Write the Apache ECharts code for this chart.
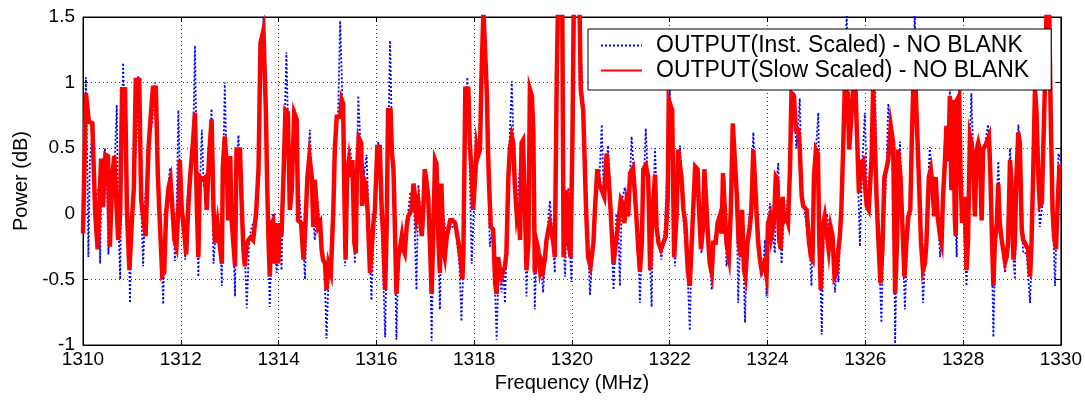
<!DOCTYPE html>
<html><head><meta charset="utf-8">
<script src="https://cdn.jsdelivr.net/npm/echarts@6/dist/echarts.min.js"></script>
<style>html,body{margin:0;padding:0;background:#fff}#c{width:1085px;height:402px}</style>
</head><body><div id="c"></div><script>
// [frequency MHz, power dB]
const slowScaled = [
[1310.00,-0.15],[1310.06,0.92],[1310.12,0.70],[1310.19,0.69],[1310.25,0.00],[1310.30,-0.27],[1310.37,0.42],[1310.41,0.05],[1310.46,0.45],[1310.51,0.44],
[1310.55,-0.25],[1310.60,0.30],[1310.64,0.44],[1310.68,0.10],[1310.72,-0.20],[1310.76,0.00],[1310.80,0.95],[1310.86,0.95],[1310.90,0.00],[1310.95,-0.43],
[1311.00,-0.05],[1311.04,0.20],[1311.08,1.02],[1311.15,1.02],[1311.19,0.10],[1311.24,-0.05],[1311.28,-0.17],[1311.34,0.50],[1311.38,0.72],[1311.43,0.96],
[1311.49,0.96],[1311.53,0.30],[1311.57,-0.05],[1311.62,-0.47],[1311.66,-0.45],[1311.70,0.00],[1311.75,0.20],[1311.79,0.26],[1311.83,0.26],[1311.87,-0.20],
[1311.91,-0.25],[1311.96,0.10],[1311.98,0.41],[1312.02,0.03],[1312.06,-0.10],[1312.11,-0.31],[1312.15,0.03],[1312.19,0.28],[1312.25,0.55],[1312.29,0.77],
[1312.33,0.03],[1312.36,-0.33],[1312.39,0.28],[1312.43,0.26],[1312.46,0.26],[1312.50,0.28],[1312.53,0.03],[1312.58,0.45],[1312.63,0.72],[1312.67,0.03],
[1312.70,-0.22],[1312.75,-0.07],[1312.79,-0.07],[1312.84,-0.38],[1312.86,0.36],[1312.90,0.59],[1312.94,0.36],[1312.97,-0.05],[1313.01,0.44],[1313.04,-0.05],
[1313.08,-0.25],[1313.11,-0.40],[1313.14,0.49],[1313.21,0.49],[1313.25,0.03],[1313.28,-0.27],[1313.31,-0.40],[1313.34,-0.25],[1313.38,-0.20],[1313.43,-0.18],
[1313.48,-0.20],[1313.54,0.00],[1313.59,0.34],[1313.63,1.30],[1313.69,1.40],[1313.74,0.79],[1313.77,0.16],[1313.80,-0.27],[1313.82,-0.48],[1313.86,-0.07],
[1313.89,-0.05],[1313.92,-0.38],[1313.96,-0.07],[1313.99,-0.38],[1314.03,-0.07],[1314.06,-0.17],[1314.10,0.28],[1314.14,0.79],[1314.19,0.77],[1314.23,0.03],
[1314.27,0.18],[1314.32,0.77],[1314.37,0.72],[1314.40,-0.05],[1314.46,-0.07],[1314.51,-0.35],[1314.55,-0.07],[1314.59,0.28],[1314.63,0.44],[1314.68,0.28],
[1314.71,-0.10],[1314.74,0.26],[1314.78,0.26],[1314.81,-0.10],[1314.85,-0.07],[1314.88,-0.27],[1314.91,-0.35],[1314.95,-0.38],[1314.98,-0.58],[1315.02,-0.38],
[1315.07,-0.45],[1315.12,0.03],[1315.15,0.49],[1315.19,0.74],[1315.26,0.74],[1315.29,0.87],[1315.32,0.84],[1315.34,0.28],[1315.37,-0.35],[1315.40,0.28],
[1315.44,0.41],[1315.48,0.28],[1315.51,0.41],[1315.55,-0.22],[1315.58,-0.30],[1315.60,0.28],[1315.64,0.58],[1315.69,0.54],[1315.71,0.06],[1315.75,0.26],
[1315.78,0.23],[1315.82,0.03],[1315.87,-0.45],[1315.94,-0.07],[1315.97,0.03],[1316.02,0.51],[1316.07,0.51],[1316.11,0.03],[1316.14,-0.17],[1316.18,-0.58],
[1316.21,-0.12],[1316.24,0.79],[1316.29,0.79],[1316.32,0.46],[1316.35,0.34],[1316.38,-0.12],[1316.41,-0.61],[1316.45,-0.33],[1316.48,-0.27],[1316.52,-0.17],
[1316.55,-0.27],[1316.58,-0.30],[1316.62,-0.10],[1316.65,-0.02],[1316.69,-0.02],[1316.72,0.03],[1316.76,0.23],[1316.79,0.13],[1316.82,-0.02],[1316.86,0.08],
[1316.89,-0.02],[1316.93,-0.17],[1316.96,0.03],[1316.99,0.34],[1317.03,0.23],[1317.06,0.13],[1317.10,-0.27],[1317.13,-0.61],[1317.16,-0.22],[1317.20,0.41],
[1317.23,0.38],[1317.27,-0.22],[1317.30,-0.45],[1317.33,0.23],[1317.37,-0.27],[1317.40,-0.33],[1317.44,-0.17],[1317.47,-0.12],[1317.51,-0.05],[1317.56,-0.05],
[1317.61,-0.07],[1317.64,-0.07],[1317.68,-0.22],[1317.72,-0.33],[1317.76,-0.50],[1317.78,-0.30],[1317.82,0.97],[1317.86,0.80],[1317.88,0.97],[1317.91,0.54],
[1317.95,0.31],[1317.98,0.03],[1318.02,0.28],[1318.05,0.51],[1318.08,0.44],[1318.12,0.49],[1318.15,1.05],[1318.19,1.55],[1318.22,1.55],[1318.26,0.92],
[1318.28,0.54],[1318.30,0.28],[1318.34,-0.10],[1318.39,-0.12],[1318.43,-0.53],[1318.46,-0.61],[1318.49,-0.33],[1318.53,-0.43],[1318.56,-0.48],[1318.60,-0.43],
[1318.63,-0.40],[1318.66,-0.30],[1318.70,0.28],[1318.73,0.49],[1318.77,0.59],[1318.80,0.54],[1318.83,0.23],[1318.87,0.00],[1318.90,0.08],[1318.94,-0.20],
[1318.97,0.54],[1319.00,0.56],[1319.04,0.03],[1319.07,-0.43],[1319.11,-0.22],[1319.14,0.95],[1319.18,0.90],[1319.21,0.64],[1319.24,-0.45],[1319.28,-0.22],
[1319.31,-0.27],[1319.35,-0.43],[1319.38,-0.38],[1319.41,-0.43],[1319.45,-0.33],[1319.48,-0.20],[1319.52,-0.12],[1319.55,-0.07],[1319.58,-0.07],[1319.62,-0.22],
[1319.65,-0.33],[1319.69,1.05],[1319.72,1.70],[1319.80,1.70],[1319.83,-0.33],[1319.89,0.18],[1319.93,-0.22],[1319.97,-0.33],[1320.01,0.54],[1320.04,1.70],
[1320.15,1.70],[1320.18,0.95],[1320.23,0.79],[1320.29,0.03],[1320.33,-0.33],[1320.38,-0.40],[1320.44,-0.22],[1320.47,0.03],[1320.52,0.34],[1320.56,0.23],
[1320.61,0.18],[1320.66,0.13],[1320.71,0.46],[1320.75,0.28],[1320.79,0.03],[1320.85,-0.38],[1320.90,-0.22],[1320.95,-0.07],[1321.00,0.11],[1321.04,0.08],
[1321.07,-0.07],[1321.11,0.08],[1321.15,-0.02],[1321.19,0.31],[1321.25,0.35],[1321.31,0.03],[1321.35,-0.22],[1321.39,-0.44],[1321.43,-0.22],[1321.46,0.34],
[1321.51,0.37],[1321.56,0.28],[1321.60,-0.43],[1321.65,0.03],[1321.70,0.30],[1321.73,-0.10],[1321.77,-0.22],[1321.82,-0.27],[1321.87,-0.22],[1321.92,-0.17],
[1321.96,0.13],[1321.98,0.87],[1322.02,0.88],[1322.05,0.79],[1322.09,-0.33],[1322.14,-0.02],[1322.17,0.49],[1322.21,0.49],[1322.24,0.28],[1322.28,0.03],
[1322.32,-0.07],[1322.37,-0.43],[1322.41,-0.55],[1322.45,-0.22],[1322.48,0.03],[1322.52,0.36],[1322.57,0.34],[1322.60,0.03],[1322.64,-0.27],[1322.68,-0.10],
[1322.71,0.34],[1322.75,0.34],[1322.79,-0.22],[1322.82,-0.38],[1322.86,-0.45],[1322.89,-0.22],[1322.94,-0.22],[1322.98,-0.07],[1323.02,-0.02],[1323.06,-0.15],
[1323.09,0.31],[1323.13,0.31],[1323.16,-0.22],[1323.21,-0.33],[1323.25,0.03],[1323.29,0.69],[1323.33,0.69],[1323.37,0.16],[1323.41,-0.22],[1323.46,-0.33],
[1323.48,0.03],[1323.52,-0.43],[1323.55,-0.48],[1323.59,-0.22],[1323.64,-0.10],[1323.67,0.03],[1323.71,0.49],[1323.74,0.28],[1323.78,-0.02],[1323.81,-0.22],
[1323.84,-0.33],[1323.88,-0.43],[1323.93,-0.38],[1323.98,-0.48],[1324.01,-0.07],[1324.05,-0.02],[1324.08,-0.17],[1324.13,-0.07],[1324.17,0.28],[1324.20,0.26],
[1324.24,-0.20],[1324.27,-0.27],[1324.31,0.13],[1324.34,-0.05],[1324.38,-0.02],[1324.42,-0.07],[1324.46,0.34],[1324.49,0.92],[1324.54,0.90],[1324.58,0.64],
[1324.63,0.64],[1324.66,0.49],[1324.70,0.13],[1324.73,0.06],[1324.80,0.03],[1324.85,-0.22],[1324.89,-0.33],[1324.92,-0.35],[1324.95,0.28],[1324.99,0.49],
[1325.03,0.46],[1325.06,-0.22],[1325.09,-0.58],[1325.13,-0.10],[1325.17,-0.02],[1325.21,-0.02],[1325.25,-0.27],[1325.29,-0.10],[1325.33,-0.17],[1325.37,-0.48],
[1325.41,-0.45],[1325.45,-0.27],[1325.48,-0.17],[1325.51,0.03],[1325.55,0.54],[1325.58,0.95],[1325.64,0.92],[1325.67,0.49],[1325.71,0.71],[1325.75,0.95],
[1325.80,0.95],[1325.84,0.49],[1325.87,0.16],[1325.91,0.39],[1325.96,0.41],[1325.99,0.23],[1326.03,0.06],[1326.07,0.03],[1326.13,0.44],[1326.16,0.95],
[1326.20,0.95],[1326.23,0.13],[1326.27,-0.22],[1326.31,-0.53],[1326.35,-0.27],[1326.39,0.28],[1326.43,0.34],[1326.47,0.41],[1326.52,0.67],[1326.57,0.54],
[1326.61,-0.61],[1326.65,-0.22],[1326.67,0.49],[1326.72,0.28],[1326.76,-0.10],[1326.80,-0.48],[1326.84,-0.22],[1326.88,-0.02],[1326.92,0.03],[1326.95,0.54],
[1326.98,0.95],[1327.03,0.95],[1327.07,0.54],[1327.10,0.23],[1327.14,-0.22],[1327.18,-0.43],[1327.22,-0.38],[1327.25,-0.22],[1327.30,0.28],[1327.34,0.34],
[1327.37,0.23],[1327.41,-0.02],[1327.44,0.28],[1327.48,-0.02],[1327.53,-0.17],[1327.56,-0.22],[1327.59,0.13],[1327.63,0.41],[1327.66,0.67],[1327.70,0.41],
[1327.73,0.90],[1327.76,0.18],[1327.80,0.87],[1327.83,-0.02],[1327.85,-0.17],[1327.88,0.87],[1327.92,0.90],[1327.95,0.28],[1327.98,-0.07],[1328.02,-0.07],
[1328.04,0.13],[1328.07,-0.43],[1328.10,-0.22],[1328.14,0.59],[1328.17,0.54],[1328.21,0.41],[1328.24,-0.02],[1328.28,0.49],[1328.31,0.54],[1328.34,0.49],
[1328.38,-0.05],[1328.41,0.49],[1328.48,0.54],[1328.53,0.59],[1328.56,0.28],[1328.59,-0.17],[1328.62,-0.55],[1328.65,-0.22],[1328.69,-0.07],[1328.72,0.23],
[1328.75,-0.07],[1328.79,-0.20],[1328.82,-0.27],[1328.86,-0.37],[1328.89,-0.33],[1328.92,-0.22],[1328.96,0.41],[1328.99,0.23],[1329.03,-0.35],[1329.06,-0.22],
[1329.09,0.28],[1329.13,0.62],[1329.16,0.54],[1329.20,-0.12],[1329.23,-0.20],[1329.26,-0.22],[1329.30,-0.25],[1329.33,-0.27],[1329.37,-0.48],[1329.40,-0.22],
[1329.44,0.41],[1329.47,0.95],[1329.50,0.79],[1329.54,0.28],[1329.57,0.06],[1329.61,0.08],[1329.64,0.08],[1329.67,0.92],[1329.71,1.60],[1329.76,1.60],
[1329.79,0.79],[1329.83,0.03],[1329.86,-0.17],[1329.90,-0.27],[1329.93,0.03],[1329.97,0.36],[1330.00,0.36]
];
const instScaled = [
[1310.00,0.00],[1310.06,1.04],[1310.09,0.30],[1310.11,-0.33],[1310.14,0.40],[1310.21,0.70],[1310.25,0.10],[1310.32,0.20],[1310.35,-0.38],[1310.38,0.30],
[1310.45,0.50],[1310.49,0.20],[1310.52,-0.31],[1310.56,0.10],[1310.65,0.40],[1310.69,0.83],[1310.72,0.00],[1310.76,-0.50],[1310.79,0.40],[1310.82,1.15],
[1310.86,0.60],[1310.93,0.00],[1310.96,-0.68],[1310.99,-0.10],[1311.10,0.60],[1311.13,1.05],[1311.17,0.30],[1311.23,-0.40],[1311.27,0.10],[1311.36,0.60],
[1311.42,0.70],[1311.47,1.00],[1311.51,0.40],[1311.60,-0.20],[1311.64,-0.69],[1311.68,0.00],[1311.78,0.35],[1311.84,0.10],[1311.88,-0.36],[1311.92,0.10],
[1311.95,0.79],[1311.99,0.20],[1312.05,0.00],[1312.09,-0.35],[1312.13,0.10],[1312.25,0.50],[1312.29,1.28],[1312.33,0.20],[1312.36,-0.48],[1312.39,0.20],
[1312.43,0.64],[1312.47,0.20],[1312.58,0.40],[1312.63,0.80],[1312.65,0.10],[1312.67,-0.38],[1312.72,-0.10],[1312.80,-0.10],[1312.84,-0.55],[1312.87,0.40],
[1312.90,1.00],[1312.94,0.30],[1313.01,0.30],[1313.06,0.00],[1313.11,-0.63],[1313.14,0.40],[1313.18,0.60],[1313.24,0.10],[1313.31,-0.30],[1313.35,-0.72],
[1313.40,-0.20],[1313.45,-0.10],[1313.55,0.00],[1313.62,1.00],[1313.69,1.49],[1313.74,0.70],[1313.79,-0.20],[1313.82,-0.71],[1313.86,-0.10],[1313.89,0.00],
[1313.96,-0.45],[1314.02,-0.10],[1314.06,-0.43],[1314.10,0.30],[1314.16,1.23],[1314.21,0.40],[1314.27,0.10],[1314.30,0.50],[1314.33,0.80],[1314.38,0.40],
[1314.45,0.00],[1314.50,-0.20],[1314.54,-0.50],[1314.58,0.10],[1314.64,0.64],[1314.68,0.20],[1314.74,-0.20],[1314.80,0.10],[1314.88,-0.30],[1314.94,-0.40],
[1314.98,-0.95],[1315.03,-0.40],[1315.10,-0.30],[1315.15,0.50],[1315.22,0.80],[1315.26,1.47],[1315.31,0.80],[1315.34,0.20],[1315.36,-0.40],[1315.40,0.30],
[1315.46,0.50],[1315.52,0.30],[1315.56,-0.38],[1315.60,0.30],[1315.63,0.90],[1315.68,0.50],[1315.75,0.30],[1315.80,0.45],[1315.84,0.00],[1315.90,-0.66],
[1315.95,-0.10],[1316.04,0.55],[1316.10,0.00],[1316.18,-0.94],[1316.22,0.00],[1316.28,1.32],[1316.33,0.40],[1316.37,-0.10],[1316.41,-0.96],[1316.45,-0.30],
[1316.55,-0.20],[1316.62,-0.10],[1316.69,0.15],[1316.76,0.20],[1316.82,-0.58],[1316.86,0.22],[1316.92,-0.10],[1316.99,0.30],[1317.06,0.10],[1317.10,-0.30],
[1317.13,-0.97],[1317.17,-0.20],[1317.20,0.45],[1317.25,0.00],[1317.30,-0.73],[1317.34,0.20],[1317.37,0.00],[1317.44,-0.20],[1317.51,-0.10],[1317.62,-0.10],
[1317.70,-0.40],[1317.74,-0.82],[1317.78,-0.40],[1317.83,0.80],[1317.86,1.04],[1317.90,0.50],[1317.95,-0.38],[1318.00,0.10],[1318.08,0.45],[1318.12,0.60],
[1318.15,1.10],[1318.19,1.60],[1318.24,1.00],[1318.28,0.40],[1318.32,-0.25],[1318.38,-0.10],[1318.43,-0.60],[1318.46,-0.96],[1318.50,-0.40],[1318.56,-0.60],
[1318.60,-0.45],[1318.63,-0.68],[1318.67,-0.20],[1318.72,0.50],[1318.77,1.01],[1318.81,0.50],[1318.87,0.00],[1318.90,0.00],[1318.96,0.50],[1319.00,0.55],
[1319.04,0.00],[1319.07,-0.63],[1319.10,-0.20],[1319.14,0.95],[1319.18,0.80],[1319.21,0.50],[1319.24,-0.73],[1319.28,-0.25],[1319.32,-0.30],[1319.37,-0.40],
[1319.41,-0.60],[1319.46,-0.30],[1319.55,0.10],[1319.61,-0.20],[1319.65,-0.45],[1319.68,0.80],[1319.72,1.60],[1319.82,1.60],[1319.84,-0.30],[1319.86,-0.48],
[1319.90,0.10],[1319.93,0.20],[1319.96,-0.30],[1319.99,-0.52],[1320.02,0.50],[1320.06,1.60],[1320.16,1.60],[1320.23,0.70],[1320.30,0.00],[1320.37,-0.62],
[1320.43,-0.20],[1320.50,0.20],[1320.56,0.25],[1320.61,0.68],[1320.65,0.15],[1320.68,0.10],[1320.71,0.40],[1320.74,0.52],[1320.79,0.00],[1320.85,-0.58],
[1320.89,-0.20],[1320.91,0.00],[1320.95,-0.10],[1320.98,-0.55],[1321.02,0.10],[1321.08,0.20],[1321.16,0.00],[1321.22,0.59],[1321.27,0.30],[1321.32,0.00],
[1321.36,-0.25],[1321.39,-0.68],[1321.44,-0.10],[1321.51,0.65],[1321.56,0.20],[1321.60,-0.40],[1321.63,-0.71],[1321.66,0.00],[1321.70,0.50],[1321.75,-0.10],
[1321.83,-0.35],[1321.90,-0.10],[1321.97,0.50],[1322.00,0.95],[1322.04,0.70],[1322.08,-0.20],[1322.11,-0.40],[1322.15,0.10],[1322.21,0.52],[1322.27,0.00],
[1322.36,-0.40],[1322.41,-0.89],[1322.45,-0.20],[1322.51,0.30],[1322.55,0.30],[1322.60,0.00],[1322.65,-0.30],[1322.69,0.00],[1322.72,0.20],[1322.78,-0.20],
[1322.86,-0.58],[1322.92,-0.20],[1323.00,-0.05],[1323.06,0.00],[1323.12,0.25],[1323.16,-0.40],[1323.22,-0.25],[1323.28,0.60],[1323.33,0.45],[1323.37,0.10],
[1323.40,-0.68],[1323.44,-0.20],[1323.48,0.00],[1323.51,-0.40],[1323.54,-0.83],[1323.58,-0.20],[1323.66,0.10],[1323.71,0.62],[1323.76,0.10],[1323.84,-0.30],
[1323.88,-0.48],[1323.92,-0.35],[1323.95,-0.20],[1323.98,-0.63],[1324.02,-0.05],[1324.05,0.08],[1324.10,-0.10],[1324.15,-0.30],[1324.18,0.20],[1324.22,0.39],
[1324.26,-0.20],[1324.29,-0.38],[1324.33,0.00],[1324.39,0.00],[1324.45,0.30],[1324.49,0.85],[1324.53,0.95],[1324.56,0.70],[1324.59,0.50],[1324.63,0.70],
[1324.66,0.88],[1324.70,0.20],[1324.80,-0.10],[1324.86,-0.25],[1324.90,-0.55],[1324.94,0.10],[1325.00,0.55],[1325.04,0.77],[1325.07,-0.30],[1325.11,-0.92],
[1325.15,-0.10],[1325.21,0.00],[1325.28,-0.15],[1325.34,-0.30],[1325.38,-0.60],[1325.42,-0.40],[1325.45,-0.52],[1325.50,0.00],[1325.56,0.70],[1325.62,1.55],
[1325.66,0.60],[1325.72,0.70],[1325.75,1.05],[1325.80,0.90],[1325.85,0.30],[1325.89,-0.25],[1325.93,0.30],[1325.99,0.77],[1326.04,0.10],[1326.13,0.30],
[1326.17,0.90],[1326.20,1.00],[1326.24,0.10],[1326.29,-0.40],[1326.33,-0.83],[1326.37,-0.20],[1326.43,0.30],[1326.47,0.84],[1326.53,0.60],[1326.58,0.30],
[1326.61,-0.99],[1326.65,-0.20],[1326.71,0.55],[1326.76,-0.10],[1326.81,-0.73],[1326.86,-0.20],[1326.93,0.10],[1326.97,0.80],[1327.01,1.55],[1327.05,0.70],
[1327.11,0.10],[1327.15,-0.30],[1327.18,-0.68],[1327.23,-0.30],[1327.28,0.20],[1327.32,0.51],[1327.37,0.20],[1327.42,0.00],[1327.47,0.10],[1327.53,-0.33],
[1327.58,0.00],[1327.64,0.50],[1327.69,0.40],[1327.73,0.95],[1327.77,0.20],[1327.80,0.80],[1327.84,0.00],[1327.87,-0.33],[1327.89,0.60],[1327.92,0.95],
[1327.96,0.20],[1328.02,-0.10],[1328.07,-0.55],[1328.11,-0.10],[1328.14,0.60],[1328.17,0.92],[1328.21,0.40],[1328.25,0.00],[1328.28,0.20],[1328.32,0.55],
[1328.38,0.00],[1328.42,0.45],[1328.51,0.68],[1328.56,0.25],[1328.59,-0.30],[1328.62,-0.94],[1328.66,-0.20],[1328.72,0.40],[1328.76,-0.05],[1328.82,-0.30],
[1328.86,-0.45],[1328.91,-0.20],[1328.96,0.50],[1329.00,0.20],[1329.03,-0.35],[1329.06,-0.50],[1329.10,0.30],[1329.13,0.68],[1329.17,0.50],[1329.20,-0.10],
[1329.23,-0.30],[1329.30,-0.30],[1329.37,-0.68],[1329.41,-0.20],[1329.44,0.45],[1329.47,1.00],[1329.51,0.60],[1329.54,0.20],[1329.57,-0.10],[1329.63,0.10],
[1329.67,0.90],[1329.71,1.60],[1329.78,1.60],[1329.82,0.50],[1329.85,-0.20],[1329.88,-0.55],[1329.92,0.00],[1329.95,0.46],[1330.00,0.40]
];
const seriesNames = ['OUTPUT(Inst. Scaled) - NO BLANK', 'OUTPUT(Slow Scaled) - NO BLANK'];
const xRange = [1310, 1330, 2];
const yRange = [-1, 1.5, 0.5];
const xTitle = 'Frequency (MHz)';
const yTitle = 'Power (dB)';

const FONT = 'Liberation Sans, Arial, sans-serif';
const chart = echarts.init(document.getElementById('c'), null, {renderer: 'canvas'});
const gridLine = {show: true, lineStyle: {color: '#000', type: [1, 3], width: 1, opacity: 0.75}};
const tickIn = {show: true, inside: true, length: 5, lineStyle: {color: '#000'}};
const axisLn = {show: true, onZero: false, lineStyle: {color: '#000'}};
chart.setOption({
  animation: false,
  backgroundColor: '#fff',
  grid: {left: 83, right: 24, top: 17, bottom: 57, show: true, borderColor: '#000', borderWidth: 1, containLabel: false},
  legend: {
    orient: 'vertical', left: 588, top: 29,
    padding: [4, 22, 7, 12], itemGap: 0, itemWidth: 41, itemHeight: 14,
    backgroundColor: '#fff', borderColor: '#000', borderWidth: 1,
    itemStyle: {color: 'rgba(0,0,0,0)', borderWidth: 0, borderColor: 'rgba(0,0,0,0)'},
    textStyle: {fontFamily: FONT, fontSize: 23, color: '#000', padding: [0, 0, 0, 9], lineHeight: 25},
    data: seriesNames
  },
  xAxis: [{
    type: 'value', min: xRange[0], max: xRange[1], interval: xRange[2],
    name: xTitle, nameLocation: 'middle', nameGap: 27,
    nameTextStyle: {fontFamily: FONT, fontSize: 20, color: '#000'},
    axisLine: axisLn, axisTick: tickIn,
    axisLabel: {fontFamily: FONT, fontSize: 19, color: '#000', margin: 5, formatter: v => String(v)},
    splitLine: gridLine
  }, {
    type: 'value', position: 'top', min: xRange[0], max: xRange[1], interval: xRange[2],
    axisLine: axisLn, axisTick: tickIn,
    axisLabel: {show: false}, splitLine: {show: false}
  }],
  yAxis: [{
    type: 'value', min: yRange[0], max: yRange[1], interval: yRange[2],
    name: yTitle, nameLocation: 'middle', nameGap: 52, nameRotate: 90,
    nameTextStyle: {fontFamily: FONT, fontSize: 20, color: '#000'},
    axisLine: axisLn, axisTick: tickIn,
    axisLabel: {fontFamily: FONT, fontSize: 19, color: '#000', margin: 8},
    splitLine: gridLine
  }, {
    type: 'value', position: 'right', min: yRange[0], max: yRange[1], interval: yRange[2],
    axisLine: axisLn, axisTick: tickIn,
    axisLabel: {show: false}, splitLine: {show: false}
  }],
  series: [{
    name: seriesNames[0], type: 'line', data: instScaled, xAxisIndex: 0, yAxisIndex: 0,
    symbol: 'none', showSymbol: false, clip: true, z: 2,
    lineStyle: {color: '#0000ff', width: 1.8, type: [2, 2]},
    itemStyle: {color: '#0000ff'}
  }, {
    name: seriesNames[1], type: 'line', data: slowScaled, xAxisIndex: 0, yAxisIndex: 0,
    symbol: 'none', showSymbol: false, clip: true, z: 3,
    lineStyle: {color: '#ff0000', width: 4.5, join: 'miter'},
    itemStyle: {color: '#ff0000'}
  }]
});
</script></body></html>
